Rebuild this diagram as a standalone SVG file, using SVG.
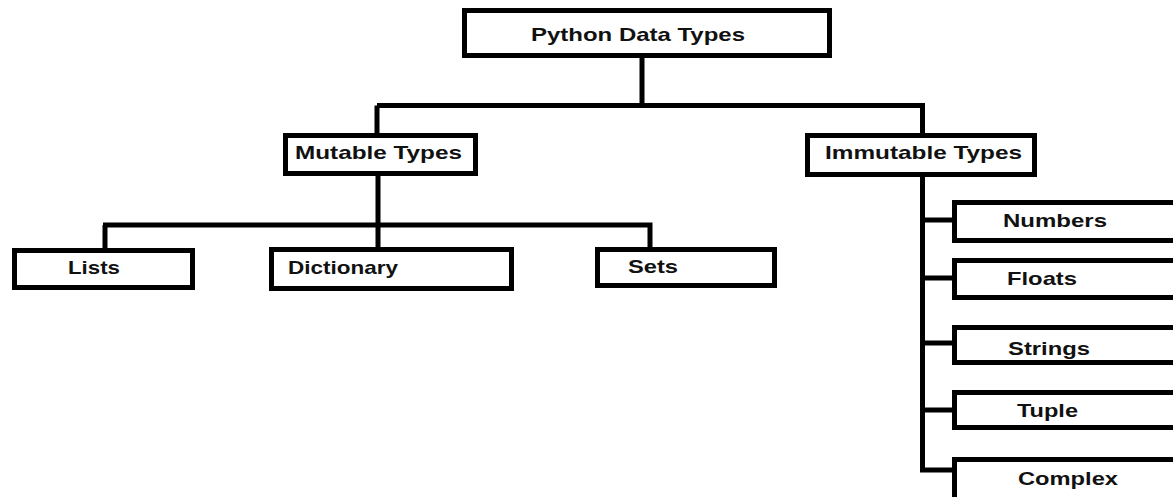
<svg xmlns="http://www.w3.org/2000/svg" width="1173" height="497" viewBox="0 0 1173 497">
<style>
.box{fill:#fff;stroke:#000;stroke-width:5}
.lbl{font-family:"Liberation Sans",Arial,sans-serif;font-weight:bold;font-size:19px;fill:#111;text-anchor:start}
.c{fill:none;stroke:#000;stroke-width:5}
</style>
<rect width="1173" height="497" fill="#fff"/>
<g id="connectors">
<path class="c" d="M642,58 V105.5 M377,105.5 H925 M377,105.5 V133 M922.5,105.5 V133"/>
<path class="c" d="M378,175 V247 M103,225 H652.5 M105,225 V248 M650,225 V247"/>
<path class="c" d="M922.5,176 V472.5 M922.5,220 H952 M922.5,278 H952 M922.5,343 H952 M922.5,410 H952 M920,470 H952"/>
</g>
<g id="python-data-types"><rect class="box" x="464.5" y="10.5" width="365" height="45"/><text class="lbl" x="531" y="41" textLength="214" lengthAdjust="spacingAndGlyphs">Python Data Types</text></g>
<g id="mutable-types"><rect class="box" x="285.5" y="135.5" width="190" height="38"/><text class="lbl" x="295" y="159" textLength="167" lengthAdjust="spacingAndGlyphs">Mutable Types</text></g>
<g id="immutable-types"><rect class="box" x="807.5" y="135.5" width="227" height="39"/><text class="lbl" x="825" y="159" textLength="197" lengthAdjust="spacingAndGlyphs">Immutable Types</text></g>
<g id="lists"><rect class="box" x="14.5" y="250.5" width="178" height="37"/><text class="lbl" x="68" y="274" textLength="52" lengthAdjust="spacingAndGlyphs">Lists</text></g>
<g id="dictionary"><rect class="box" x="271.5" y="249.5" width="240" height="39"/><text class="lbl" x="288" y="274" textLength="110" lengthAdjust="spacingAndGlyphs">Dictionary</text></g>
<g id="sets"><rect class="box" x="597.5" y="249.5" width="177" height="36"/><text class="lbl" x="628" y="273" textLength="50" lengthAdjust="spacingAndGlyphs">Sets</text></g>
<g id="numbers"><rect class="box" x="954.5" y="202.5" width="230" height="38"/><text class="lbl" x="1003" y="227" textLength="104" lengthAdjust="spacingAndGlyphs">Numbers</text></g>
<g id="floats"><rect class="box" x="954.5" y="260.5" width="230" height="37"/><text class="lbl" x="1007" y="285" textLength="70" lengthAdjust="spacingAndGlyphs">Floats</text></g>
<g id="strings"><rect class="box" x="954.5" y="327.5" width="230" height="35"/><text class="lbl" x="1008" y="355" textLength="82" lengthAdjust="spacingAndGlyphs">Strings</text></g>
<g id="tuple"><rect class="box" x="954.5" y="392.5" width="230" height="35"/><text class="lbl" x="1017" y="417" textLength="61" lengthAdjust="spacingAndGlyphs">Tuple</text></g>
<g id="complex"><rect class="box" x="954.5" y="459.5" width="230" height="45"/><text class="lbl" x="1018" y="485" textLength="100" lengthAdjust="spacingAndGlyphs">Complex</text></g>
</svg>
